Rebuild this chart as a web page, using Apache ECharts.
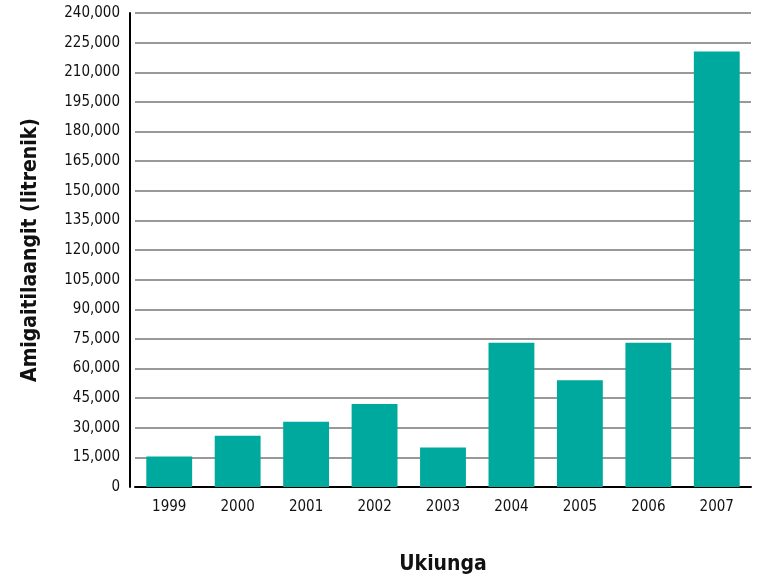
<!DOCTYPE html>
<html>
<head>
<meta charset="utf-8">
<script src="https://cdn.jsdelivr.net/npm/echarts@6/dist/echarts.min.js"></script>
<style>html,body{margin:0;padding:0;background:#fff}#c{width:764px;height:578px}</style>
</head>
<body>
<div id="c"></div>
<script>
var years = ['1999','2000','2001','2002','2003','2004','2005','2006','2007'];
var litres = [15500, 26000, 33000, 42000, 20000, 73000, 54000, 73000, 220500];
var yTitle = 'Amigaitilaangit (litrenik)';
var xTitle = 'Ukiunga';
var FONT = '"DejaVu Sans Condensed", "Liberation Sans Narrow", sans-serif';
var chart = echarts.init(document.getElementById('c'));
chart.setOption({
  animation: false,
  grid: {left: 135, right: 13, top: 13, bottom: 91, containLabel: false, outerBoundsMode: 'none'},
  xAxis: {
    type: 'category',
    data: years,
    axisLine: {show: true, lineStyle: {color: '#000', width: 2}},
    axisTick: {show: false},
    axisLabel: {color: '#111', fontFamily: FONT, fontSize: 15, margin: 13},
    name: xTitle,
    nameLocation: 'middle',
    nameGap: 67,
    nameTextStyle: {color: '#111', fontFamily: FONT, fontSize: 21, fontWeight: 'bold'}
  },
  yAxis: {
    type: 'value',
    min: 0, max: 240000, interval: 15000,
    offset: 5,
    axisLine: {show: true, lineStyle: {color: '#000', width: 2}},
    axisTick: {show: false},
    splitLine: {lineStyle: {color: '#999', width: 2}},
    axisLabel: {color: '#111', fontFamily: FONT, fontSize: 15, margin: 10,
      formatter: function(v){ return v.toLocaleString('en-US'); }},
    name: yTitle,
    nameLocation: 'middle',
    nameGap: 89,
    nameTextStyle: {color: '#111', fontFamily: FONT, fontSize: 21, fontWeight: 'bold'}
  },
  series: [{
    type: 'bar',
    data: litres,
    barCategoryGap: '33%',
    itemStyle: {color: '#00A99D'}
  }]
});
</script>
</body>
</html>
